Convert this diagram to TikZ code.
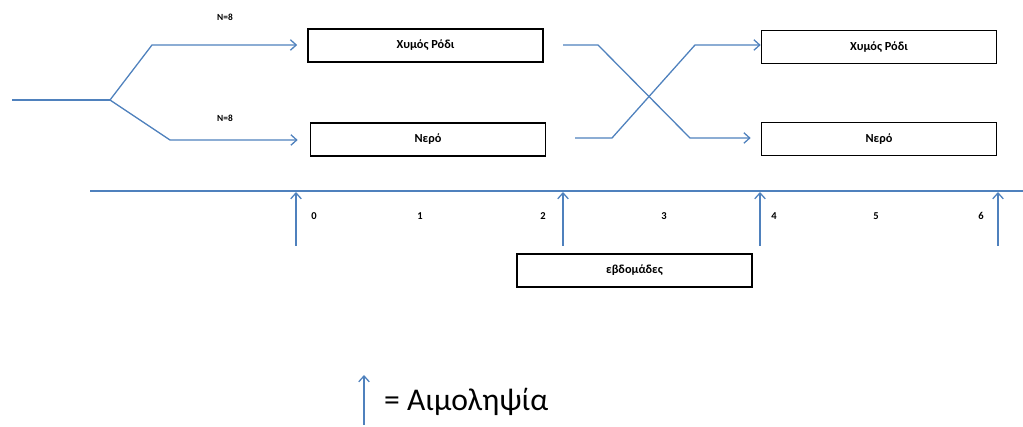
\documentclass[tikz,border=0pt]{standalone}
\usepackage{fontspec}
\setmainfont{Carlito}
\usepackage{tikz}
\usetikzlibrary{arrows.meta,positioning,calc}
\definecolor{lineblue}{RGB}{79,129,189}

\begin{document}
\begin{tikzpicture}[
    x=0.03cm, y=-0.03cm,
    group/.style={draw=black, rectangle, line width=1.4pt, minimum width=7.05cm, minimum height=1cm, inner sep=0pt, font=\fontsize{10.5}{12}\selectfont\bfseries},
    flow/.style={-{Straight Barb[length=5pt,width=9pt]}, line width=1.1pt, color=lineblue},
    link/.style={line width=1.1pt, color=lineblue},
    week/.style={font=\small\bfseries, inner sep=1pt},
    count/.style={font=\footnotesize\bfseries, inner sep=1pt}
]
\useasboundingbox (0,0) rectangle (1023,427);

% First period: split into two groups
\node[group] (juice1) at (425.5,45.5) {Χυμός Ρόδι};
\node[group] (water1) at (428,139.5) {Νερό};
\node[count] (n1) at (225,17) {N=8};
\node[count] (n2) at (225,118) {N=8};

\coordinate (start) at (12,100);
\coordinate (split) at (110,100);
\coordinate (up) at (152,45);
\coordinate (down) at (170,140);
\draw[link] (start) -- (split);
\draw[flow, shorten >=0.3cm] (split) -- (up) -- (up-|juice1.west);
\draw[flow, shorten >=0.36cm] (split) -- (down) -- (down-|water1.west);

% Second period: cross-over
\node[group] (juice2) at (879,47) {Χυμός Ρόδι};
\node[group] (water2) at (879,139) {Νερό};

\coordinate (a0) at (563,45);
\coordinate (a1) at (598,45);
\coordinate (a2) at (690,138);
\coordinate (b0) at (575,138);
\coordinate (b1) at (612,138);
\coordinate (b2) at (695,45);
\draw[flow, shorten >=0.3cm] (a0) -- (a1) -- (a2) -- (a2-|water2.west);
\draw[flow] (b0) -- (b1) -- (b2) -- (b2-|juice2.west);

% Time axis in weeks
\coordinate (axisL) at (90,191);
\coordinate (axisR) at (1023,191);
\draw[link] (axisL) -- (axisR);

\foreach \x/\name in {296/s0, 563/s2, 760/s4, 998/s6}{
    \coordinate (\name) at (\x,192);
    \coordinate (\name b) at (\x,246);
    \draw[flow] (\name b) -- (\name);
}
\foreach \x/\w in {314/0, 420/1, 543/2, 664/3, 774/4, 876/5, 981/6}{
    \node[week] (w\w) at (\x,216) {\w};
}

\node[group] (weeks) at (634.5,270.5) {εβδομάδες};

% Legend
\coordinate (keyB) at (364,425);
\coordinate (keyT) at (364,375);
\draw[flow] (keyB) -- (keyT);
\node[anchor=west, inner sep=0pt, font=\fontsize{27}{32}\selectfont] (key) at (384,402) {= Αιμοληψία};

\end{tikzpicture}
\end{document}
